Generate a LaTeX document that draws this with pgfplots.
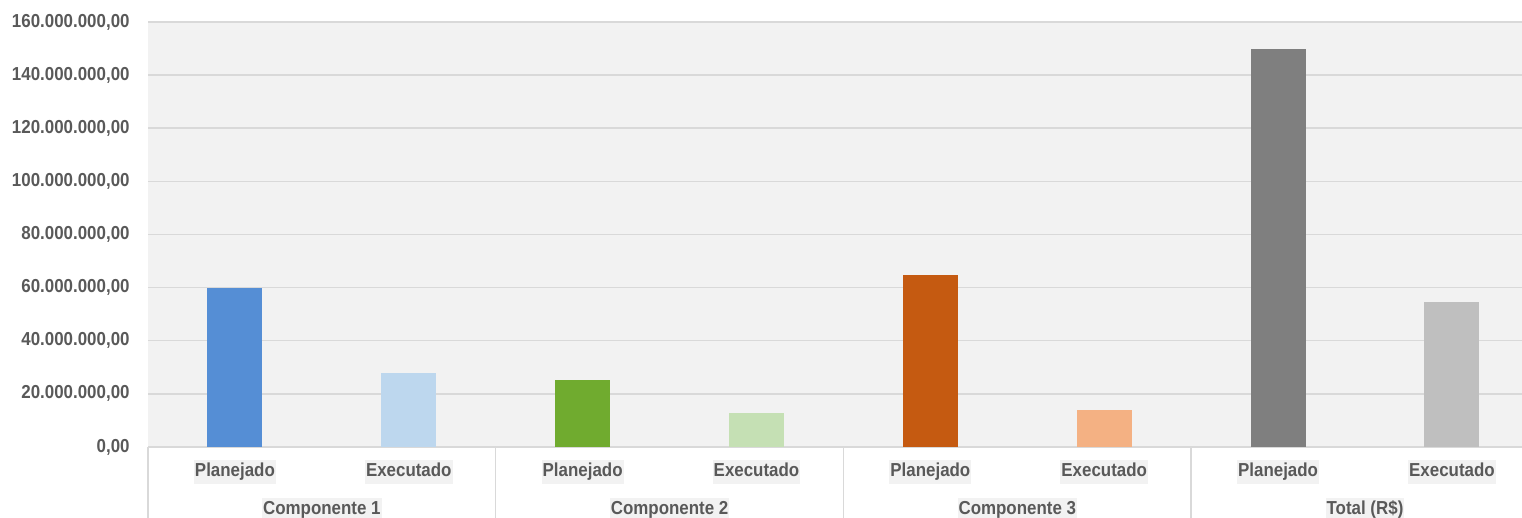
\documentclass[border=0pt]{standalone}
\usepackage{fontspec}
\setmainfont{Liberation Sans}[FakeStretch=0.9]
\usepackage{pgfplots}
\pgfplotsset{compat=1.18}

\definecolor{gridc}{HTML}{D9D9D9}
\definecolor{bgc}{HTML}{F2F2F2}
\definecolor{txtc}{HTML}{595959}
\definecolor{cA}{HTML}{558ED5}
\definecolor{cAl}{HTML}{BDD7EE}
\definecolor{cB}{HTML}{70AB2F}
\definecolor{cBl}{HTML}{C5E0B4}
\definecolor{cC}{HTML}{C55A11}
\definecolor{cCl}{HTML}{F4B183}
\definecolor{cD}{HTML}{7F7F7F}
\definecolor{cDl}{HTML}{BFBFBF}

\begin{document}
\begin{tikzpicture}
\begin{axis}[
    at={(74pt,35.5pt)}, anchor=south west,
    scale only axis,
    width=687pt, height=212.5pt,
    xmin=-0.5, xmax=7.403,
    ymin=0, ymax=160000000,
    axis background/.style={fill=bgc},
    axis x line*=bottom, axis y line*=left,
    axis line style={-},
    x axis line style={gridc, line width=0.75pt},
    y axis line style={draw=none},
    ymajorgrids,
    major grid style={gridc, line width=0.75pt},
    major tick length=0pt,
    ytick={0,20000000,40000000,60000000,80000000,100000000,120000000,140000000,160000000},
    scaled y ticks=false,
    yticklabel style={
        /pgf/number format/.cd, fixed, fixed zerofill, precision=2,
        1000 sep={.}, dec sep={,}, assume math mode=true,
        /tikz/.cd, anchor=east, inner sep=0pt, xshift=-9pt},
    xtick={0,1,2,3,4,5,6,7},
    xticklabels={Planejado,Executado,Planejado,Executado,Planejado,Executado,Planejado,Executado},
    xticklabel style={anchor=center, yshift=-12.5pt, fill=bgc,
        inner xsep=0.5pt, inner ysep=1.4pt, text height=6.8pt, text depth=2pt},
    minor xtick={-0.5,1.5,3.5,5.5},
    minor tick length=35.5pt,
    tick align=outside,
    minor tick style={gridc, line width=0.75pt},
    extra x ticks={0.5,2.5,4.5,6.5},
    extra x tick labels={Componente 1,Componente 2,Componente 3,Total (R\$)},
    extra x tick style={major tick length=0pt, grid=none,
        xticklabel style={yshift=-19pt}},
    tick label style={font=\fontsize{9.4pt}{11pt}\selectfont\bfseries, text=txtc},
    ybar, bar width=27.5pt, bar shift=0pt,
]
\addplot[fill=cA, draw=none]  coordinates {(0,60000000)};
\addplot[fill=cAl, draw=none] coordinates {(1,27800000)};
\addplot[fill=cB, draw=none]  coordinates {(2,25200000)};
\addplot[fill=cBl, draw=none] coordinates {(3,12700000)};
\addplot[fill=cC, draw=none]  coordinates {(4,64600000)};
\addplot[fill=cCl, draw=none] coordinates {(5,13900000)};
\addplot[fill=cD, draw=none]  coordinates {(6,149700000)};
\addplot[fill=cDl, draw=none] coordinates {(7,54500000)};
\end{axis}
\pgfresetboundingbox
\useasboundingbox (0,0) rectangle (761pt,259pt);
\end{tikzpicture}
\end{document}
